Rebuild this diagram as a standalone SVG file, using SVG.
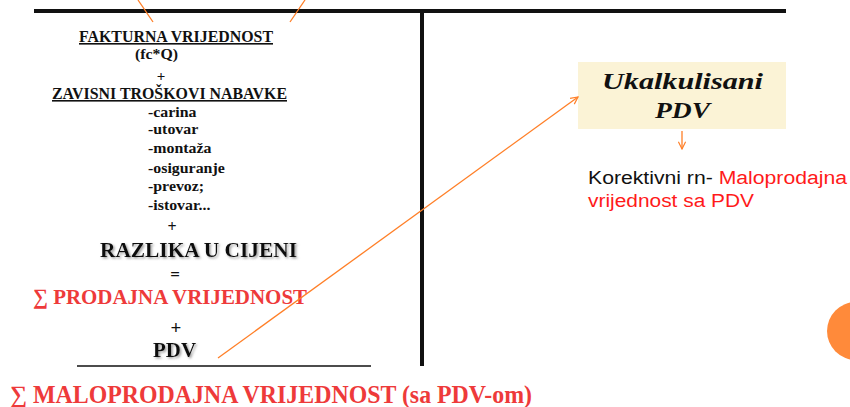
<svg xmlns="http://www.w3.org/2000/svg" width="850" height="407" viewBox="0 0 850 407">
<style>
.s{font-family:"Liberation Serif","Times New Roman",serif;font-weight:bold;fill:#111}
.r{fill:#ee3a3a}
.sans{font-family:"Liberation Sans",Arial,sans-serif;font-size:18px}
.or{stroke:#ff7f27;stroke-width:1.3;fill:none}
</style>
<defs>
<marker id="ah" viewBox="0 0 10 10" refX="9" refY="5" markerWidth="9" markerHeight="9" markerUnits="userSpaceOnUse" orient="auto">
<path d="M1,1 L9,5 L1,9" fill="none" stroke="#ff7f27" stroke-width="1.3"/>
</marker>
<filter id="shadow" x="-10%" y="-30%" width="120%" height="160%">
<feDropShadow dx="1.5" dy="1.5" stdDeviation="1" flood-color="#888" flood-opacity="0.8"/>
</filter>
</defs>
<rect width="850" height="407" fill="#fff"/>
<g id="frame">
<line x1="34" y1="11" x2="786" y2="11" stroke="#111" stroke-width="4"/>
<line x1="422" y1="11" x2="422" y2="366" stroke="#111" stroke-width="4"/>
<line x1="77" y1="366" x2="371" y2="366" stroke="#111" stroke-width="1.5"/>
</g>
<g id="left">
<text class="s" x="79" y="42" font-size="16" textLength="194" lengthAdjust="spacingAndGlyphs" text-decoration="underline">FAKTURNA VRIJEDNOST</text>
<text class="s" x="135" y="59" font-size="15" textLength="43" lengthAdjust="spacingAndGlyphs">(fc*Q)</text>
<text class="s" x="161" y="81" font-size="15" text-anchor="middle">+</text>
<text class="s" x="52" y="99" font-size="16" textLength="235" lengthAdjust="spacingAndGlyphs" text-decoration="underline">ZAVISNI TROŠKOVI NABAVKE</text>
<g class="s" font-size="15" transform="translate(148,0) scale(1.06,1)">
<text x="0" y="117">-carina</text>
<text x="0" y="134">-utovar</text>
<text x="0" y="153">-montaža</text>
<text x="0" y="173">-osiguranje</text>
<text x="0" y="191">-prevoz;</text>
<text x="0" y="210">-istovar...</text>
</g>
<text class="s" x="172" y="232" font-size="16" text-anchor="middle">+</text>
<text class="s" x="100" y="257" font-size="22" textLength="197" lengthAdjust="spacingAndGlyphs" filter="url(#shadow)">RAZLIKA U CIJENI</text>
<text class="s" x="175" y="280" font-size="17" text-anchor="middle">=</text>
<text class="s r" x="33" y="304" font-size="22" textLength="274" lengthAdjust="spacingAndGlyphs">∑ PRODAJNA VRIJEDNOST</text>
<text class="s" x="176" y="334" font-size="19" text-anchor="middle">+</text>
<text class="s" x="153" y="357" font-size="21" textLength="43" lengthAdjust="spacingAndGlyphs" filter="url(#shadow)">PDV</text>
<text class="s r" x="10" y="403" font-size="25" textLength="522" lengthAdjust="spacingAndGlyphs">∑ MALOPRODAJNA VRIJEDNOST (sa PDV-om)</text>
</g>
<g id="pdvbox">
<rect x="578" y="62" width="208" height="67" fill="#fbf3d6"/>
<text class="s" x="602" y="89" font-size="23" font-style="italic" textLength="161" lengthAdjust="spacingAndGlyphs">Ukalkulisani</text>
<text class="s" x="655" y="118" font-size="23" font-style="italic" textLength="55" lengthAdjust="spacingAndGlyphs">PDV</text>
</g>
<g id="note" class="sans">
<text x="588" y="184" textLength="259" lengthAdjust="spacingAndGlyphs"><tspan fill="#111">Korektivni rn- </tspan><tspan fill="#ff1a1a">Maloprodajna</tspan></text>
<text x="588" y="207" fill="#ff1a1a" textLength="166" lengthAdjust="spacingAndGlyphs">vrijednost sa PDV</text>
</g>
<g id="connectors">
<line class="or" x1="138" y1="0" x2="153" y2="22"/>
<line class="or" x1="305" y1="0" x2="290" y2="22"/>
<line class="or" x1="218" y1="358" x2="578" y2="97" marker-end="url(#ah)"/>
<line class="or" x1="682" y1="131" x2="682" y2="149" marker-end="url(#ah)"/>
</g>
<circle id="dot" cx="856" cy="331" r="29" fill="#ff8a3a"/>
</svg>
